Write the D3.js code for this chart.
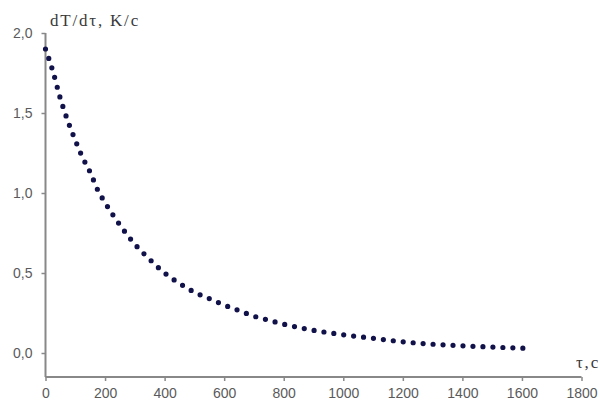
<!DOCTYPE html>
<html>

<head>
    <meta charset="UTF-8" />
    <title>dT/dtau</title>
    <style>
        body {
            margin: 0;
            padding: 0;
            background-color: white;
        }

        .tick text {
            font-family: 'Liberation Sans', Arial, sans-serif;
            font-size: 14px;
            fill: #5a5a5a;
        }

        .title {
            font-family: 'Liberation Serif', 'Times New Roman', serif;
            font-size: 17px;
            letter-spacing: 1.8px;
            fill: #3a3a3a;
        }
    </style>
</head>

<body>

    <div class="visCanvas"></div>

    <script src="https://cdnjs.cloudflare.com/ajax/libs/d3/7.8.5/d3.min.js"></script>

    <script>
        // values
        const tau = [0, 25, 50, 75, 100, 125, 150, 175, 200, 250, 300, 350, 400, 450, 500, 550, 600, 650,
            700, 750, 800, 850, 900, 950, 1000, 1100, 1200, 1300, 1400, 1500, 1605]
        const rate = [1.90, 1.76, 1.59, 1.45, 1.33, 1.22, 1.13, 1.02, 0.94, 0.80, 0.68, 0.585, 0.50, 0.435,
            0.38, 0.34, 0.30, 0.265, 0.23, 0.205, 0.18, 0.16, 0.142, 0.127, 0.114, 0.092, 0.07, 0.055,
            0.045, 0.037, 0.03]
        const xTicks = [0, 200, 400, 600, 800, 1000, 1200, 1400, 1600, 1800]
        const yTicks = [0, 0.5, 1.0, 1.5, 2.0]

        const width = 600
        const height = 403

        const x = d3.scaleLinear().domain([0, 1800]).range([45.5, 581.5])
        const y = d3.scaleLinear().domain([0, 2]).range([353, 33])
        const yBottom = 377

        const svg = d3.select('.visCanvas').append('svg')
            .attr('width', width)
            .attr('height', height)

        const fmt = d => d3.format('.1f')(d).replace('.', ',')

        // y axis
        const yAxis = svg.append('g')
            .attr('transform', `translate(${x(0)},0)`)
            .call(d3.axisLeft(y).tickValues(yTicks).tickFormat(fmt).tickSize(4).tickPadding(9))
        yAxis.select('.domain').remove()
        yAxis.selectAll('.tick line').attr('stroke', '#888').attr('stroke-width', 1.5)
        svg.append('line')
            .attr('x1', x(0)).attr('x2', x(0))
            .attr('y1', y(2)).attr('y2', yBottom)
            .attr('stroke', '#888').attr('stroke-width', 2)

        // x axis
        const xAxis = svg.append('g')
            .attr('transform', `translate(0,${yBottom})`)
            .call(d3.axisBottom(x).tickValues(xTicks).tickFormat(d3.format('d')).tickSize(4).tickPadding(7))
        xAxis.select('.domain').remove()
        xAxis.selectAll('.tick line').attr('stroke', '#888').attr('stroke-width', 1.5)
        svg.append('line')
            .attr('x1', x(0)).attr('x2', x(1800))
            .attr('y1', yBottom).attr('y2', yBottom)
            .attr('stroke', '#888').attr('stroke-width', 2)

        // titles
        svg.append('text').attr('class', 'title')
            .attr('x', 50).attr('y', 26)
            .text('dT/dτ, K/c')
        svg.append('text').attr('class', 'title')
            .attr('x', 600).attr('y', 368)
            .attr('text-anchor', 'end')
            .text('τ,c')

        // dotted curve
        const line = d3.line()
            .x((d, i) => x(tau[i]))
            .y(d => y(d))
            .curve(d3.curveMonotoneX)

        const curve = svg.append('path')
            .datum(rate)
            .attr('d', line)
            .attr('fill', 'none')
            .attr('stroke', '#12124a')
            .attr('stroke-width', 5.2)
            .attr('stroke-linecap', 'round')

        // spread the dots so one lands on each end
        const len = curve.node().getTotalLength()
        const gap = len / Math.round(len / 10) - 0.01
        curve.attr('stroke-dasharray', `0 ${gap}`)
    </script>
</body>

</html>
